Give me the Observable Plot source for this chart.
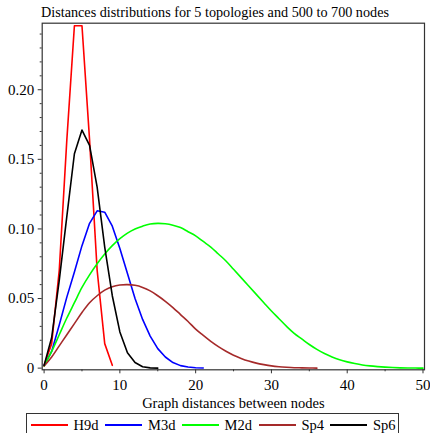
<!DOCTYPE html>
<html><head><meta charset="utf-8">
<script src="https://cdn.jsdelivr.net/npm/d3@7"></script>
<script src="https://cdn.jsdelivr.net/npm/@observablehq/plot@0.6"></script>
<style>
body{margin:0;background:#fff;font-family:"Liberation Serif","DejaVu Serif",serif;color:#000;}
#wrap{position:relative;width:430px;height:433px;overflow:hidden;}
#chart{position:absolute;left:0;top:0;}
#title{position:absolute;left:0;width:430px;top:4px;text-align:center;font-size:14.2px;white-space:nowrap;}
#legend{position:absolute;left:25.5px;top:413px;width:373px;height:26px;border:1px solid #333;box-sizing:border-box;}
.item{position:absolute;top:1px;height:20px;display:flex;align-items:center;font-size:14.5px;}
.sw{display:block;width:37px;height:1.6px;margin-right:6px;}
</style></head>
<body>
<div id="wrap">
<div id="chart"></div>
<div id="title"></div>
<div id="legend"></div>
</div>
<script>
const titleText = "Distances distributions for 5 topologies and 500 to 700 nodes";
const xLabel = "Graph distances between nodes";
const seriesNames = ["H9d", "M3d", "M2d", "Sp4", "Sp6"];
const seriesColors = ["#ff0000", "#0000ff", "#00ff00", "#a52a2a", "#000000"];
const smoothSeries = ["M2d", "Sp4"];
const yTicks = [0, 0.05, 0.10, 0.15, 0.20];
const yMinor = [0.01,0.02,0.03,0.04,0.06,0.07,0.08,0.09,0.11,0.12,0.13,0.14,0.16,0.17,0.18,0.19,0.21,0.22,0.23,0.24];
const xTicks = [0, 10, 20, 30, 40, 50];
const xMinor = [5, 15, 25, 35, 45];

// values at distances 0,1,2,...
const H9d = [0.002, 0.0176, 0.0703, 0.164, 0.246, 0.246, 0.164, 0.0703, 0.0176, 0.002];
const M3d = [0.002, 0.012, 0.031, 0.051, 0.069, 0.088, 0.104, 0.113, 0.112, 0.102, 0.086, 0.068, 0.050, 0.035, 0.023, 0.014, 0.008, 0.004, 0.0018, 0.0008, 0.0003, 0.0001];
const M2d = [0.0015, 0.012, 0.024, 0.036, 0.047, 0.058, 0.067, 0.075, 0.082, 0.088, 0.093, 0.097, 0.100, 0.102, 0.1035, 0.104, 0.1037, 0.1027, 0.101, 0.098, 0.095, 0.091, 0.087, 0.082, 0.077, 0.071, 0.065, 0.059, 0.053, 0.047, 0.041, 0.0355, 0.030, 0.025, 0.021, 0.017, 0.0135, 0.0105, 0.008, 0.006, 0.0045, 0.0033, 0.0023, 0.0016, 0.0011, 0.0007, 0.0004, 0.0002, 0.0001, 0.00005, 0];
const Sp4 = [0.0015, 0.008, 0.016, 0.024, 0.032, 0.040, 0.047, 0.052, 0.056, 0.0585, 0.0597, 0.0600, 0.0595, 0.058, 0.0555, 0.052, 0.048, 0.0435, 0.0385, 0.0335, 0.028, 0.0235, 0.0192, 0.0154, 0.0121, 0.0093, 0.0070, 0.0051, 0.0036, 0.0025, 0.0016, 0.0010, 0.0006, 0.0003, 0.0002, 0.0001, 0];
const Sp6 = [0.002, 0.022, 0.063, 0.109, 0.154, 0.171, 0.160, 0.130, 0.087, 0.052, 0.026, 0.011, 0.004, 0.001, 0.0002, 0];

const seriesValues = [H9d, M3d, M2d, Sp4, Sp6];
const FONT = '"Liberation Serif","DejaVu Serif",serif';

document.getElementById("title").textContent = titleText;

const H = 410;
const lineMarks = seriesNames.map((name, k) =>
  Plot.line(seriesValues[k], {
    x: (d, i) => i, y: d => d,
    stroke: seriesColors[k], strokeWidth: 1.6,
    curve: smoothSeries.includes(name) ? "catmull-rom" : "linear",
    clip: true
  })
);

const chart = Plot.plot({
  width: 430, height: H,
  marginLeft: 41.7, marginRight: 6, marginTop: 22.7, marginBottom: H - 369.3,
  style: {fontFamily: FONT, fontSize: "15px", color: "#000", background: "transparent", overflow: "visible"},
  x: {domain: [-0.25, 50.2]},
  y: {domain: [-0.0012, 0.2478]},
  marks: [
    Plot.axisY({ticks: yTicks, tickFormat: d => d === 0 ? "0" : d.toFixed(2), tickSize: 4, tickPadding: 4, label: null, stroke: "#333", fontSize: 15}),
    Plot.axisY({ticks: yMinor, tickSize: 2, text: null, label: null, stroke: "#333"}),
    Plot.axisX({ticks: xTicks, tickFormat: d => String(d), tickSize: 4, tickPadding: 6, label: null, stroke: "#333", fontSize: 15}),
    Plot.axisX({ticks: xMinor, tickSize: 2, text: null, label: null, stroke: "#333"}),
    ...lineMarks,
    Plot.frame({stroke: "#333", strokeWidth: 1.2}),
    Plot.text([xLabel], {text: d => d, frameAnchor: "bottom", dy: 38, lineAnchor: "bottom", fontSize: 14.5, fill: "#000"})
  ]
});
document.getElementById("chart").appendChild(chart);

// legend
const legend = document.getElementById("legend");
const itemLeft = [4, 78.5, 155, 232, 303.5];
seriesNames.forEach((name, k) => {
  const it = document.createElement("div");
  it.className = "item";
  it.style.left = itemLeft[k] + "px";
  const sw = document.createElement("span");
  sw.className = "sw";
  sw.style.background = seriesColors[k];
  it.appendChild(sw);
  const t = document.createElement("span");
  t.textContent = name;
  it.appendChild(t);
  legend.appendChild(it);
});
</script>
</body></html>
